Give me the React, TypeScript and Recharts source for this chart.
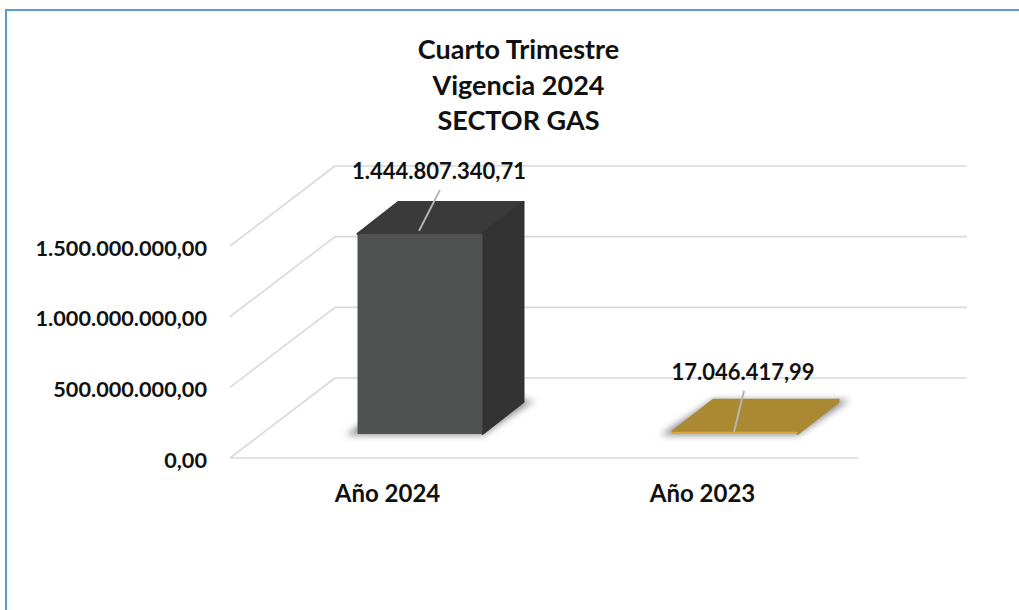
import { BarChart, Bar, XAxis, YAxis, CartesianGrid, LabelList } from "recharts";

const categories = ["Año 2024", "Año 2023"];
const values = [1444807340.71, 17046417.99];
const yTicks = [0, 500000000, 1000000000, 1500000000];
const titleLines = ["Cuarto Trimestre", "Vigencia 2024", "SECTOR GAS"];

const faceColors = ["#505251", "#dba63a"];
const topColors = ["#3a3a3a", "#ab8832"];
const sideColors = ["#333333", "#ab8832"];
const leaderDx = [21, 10];

const data = categories.map((name, i) => ({ name, value: values[i] }));

const fmt = (v: number) =>
  v.toLocaleString("de-DE", { minimumFractionDigits: 2, maximumFractionDigits: 2 });

const FONT = "Lato, sans-serif";
const GRID = "#d9d9d9";

// fake 3D: floor depth of the wall and of the bars
const WALL_DX = 105;
const WALL_DY = 80;
const WALL_W = 632;
const FLOOR_W = 628;
const BAR_SHIFT_X = 32.5;
const BAR_SHIFT_Y = 24;
const BAR_DX = 41;
const BAR_DY = 32;
const PERSPECTIVE = 0.98;

function WallLine(props: any) {
  const { x1, y1 } = props;
  const isFloor = props.index === 0;
  return (
    <g>
      <line x1={x1} y1={y1} x2={x1 + WALL_DX} y2={y1 - WALL_DY} stroke={GRID} strokeWidth={1.6} />
      <line
        x1={x1 + WALL_DX}
        y1={y1 - WALL_DY}
        x2={x1 + WALL_DX + WALL_W}
        y2={y1 - WALL_DY}
        stroke={GRID}
        strokeWidth={1.6}
      />
      {isFloor && <line x1={x1} y1={y1} x2={x1 + FLOOR_W} y2={y1} stroke={GRID} strokeWidth={1.6} />}
    </g>
  );
}

function Bar3D(props: any) {
  const { x, y, width, height, index } = props;
  const left = x + BAR_SHIFT_X;
  const right = left + width;
  const bottom = y + height - BAR_SHIFT_Y;
  const top = bottom - height * PERSPECTIVE;
  const shadow = [
    [left - 12, bottom + 1],
    [right, bottom + 1],
    [right + BAR_DX + 11, bottom - BAR_DY - 2],
    [left + BAR_DX, bottom - BAR_DY - 2],
  ];
  return (
    <g>
      <polygon points={shadow.map((p) => p.join(",")).join(" ")} fill="#8a8a8a" filter="url(#barShadow)" />
      <polygon
        points={`${left},${top} ${left + BAR_DX},${top - BAR_DY} ${right + BAR_DX},${top - BAR_DY} ${right},${top}`}
        fill={topColors[index]}
        stroke={topColors[index]}
        strokeWidth={2}
        strokeLinejoin="round"
      />
      <polygon
        points={`${right},${top} ${right + BAR_DX},${top - BAR_DY} ${right + BAR_DX},${bottom - BAR_DY} ${right},${bottom}`}
        fill={sideColors[index]}
        stroke={sideColors[index]}
        strokeWidth={2}
        strokeLinejoin="round"
      />
      <rect x={left} y={top} width={width} height={bottom - top} rx={1} fill={faceColors[index]} />
    </g>
  );
}

function ValueLabel(props: any) {
  const { x, y, width, height, value, index } = props;
  const cx = x + BAR_SHIFT_X + width / 2 - 1;
  const bottom = y + height - BAR_SHIFT_Y;
  const top = bottom - height * PERSPECTIVE;
  const startY = index === 0 ? top - 3 : top;
  const dx = leaderDx[index];
  return (
    <g>
      <line x1={cx} y1={startY} x2={cx + dx} y2={startY - 41} stroke="#b5b5b5" strokeWidth={2} />
      <text
        x={cx + dx - 1}
        y={startY - 60}
        textAnchor="middle"
        dominantBaseline="central"
        fontFamily={FONT}
        fontWeight={700}
        fontSize={22}
        fill="#111"
      >
        {fmt(value)}
      </text>
    </g>
  );
}

export default function App() {
  return (
    <div style={{ position: "absolute", left: 0, top: 0, width: 1019, height: 610, overflow: "hidden", background: "#fff" }}>
      <div
        style={{
          position: "absolute",
          left: 5,
          top: 9,
          width: 1030,
          height: 620,
          borderLeft: "2.5px solid #5b9bd5",
          borderTop: "2.5px solid #5b9bd5",
        }}
      />
      <div
        style={{
          position: "absolute",
          left: 0,
          top: 31,
          width: 1037,
          textAlign: "center",
          fontFamily: FONT,
          fontWeight: 700,
          fontSize: 27,
          lineHeight: "35.5px",
          color: "#111",
        }}
      >
        {titleLines.map((t) => (
          <div key={t}>{t}</div>
        ))}
      </div>
      <div style={{ position: "absolute", left: 0, top: 0 }}>
        <BarChart
          width={1019}
          height={610}
          data={data}
          margin={{ top: 246, right: 159, bottom: 112, left: 0 }}
          style={{ overflow: "visible" }}
        >
          <defs>
            <filter id="barShadow" x="-20%" y="-20%" width="140%" height="140%">
              <feGaussianBlur stdDeviation="3.5" />
            </filter>
          </defs>
          <CartesianGrid vertical={false} horizontal={(p: any) => <WallLine key={p.index} {...p} />} />
          <XAxis
            dataKey="name"
            height={40}
            axisLine={false}
            tickLine={false}
            tickMargin={21}
            tick={{ fill: "#111", fontFamily: FONT, fontWeight: 700, fontSize: 24 }}
          />
          <YAxis
            width={230}
            domain={[0, 1500000000]}
            ticks={yTicks}
            tickFormatter={fmt}
            axisLine={false}
            tickLine={false}
            tickMargin={17}
            tick={{ fill: "#111", fontFamily: FONT, fontWeight: 700, fontSize: 21.7, dy: 2 }}
          />
          <Bar dataKey="value" barSize={125} shape={<Bar3D />} isAnimationActive={false}>
            <LabelList dataKey="value" content={<ValueLabel />} />
          </Bar>
        </BarChart>
      </div>
    </div>
  );
}
